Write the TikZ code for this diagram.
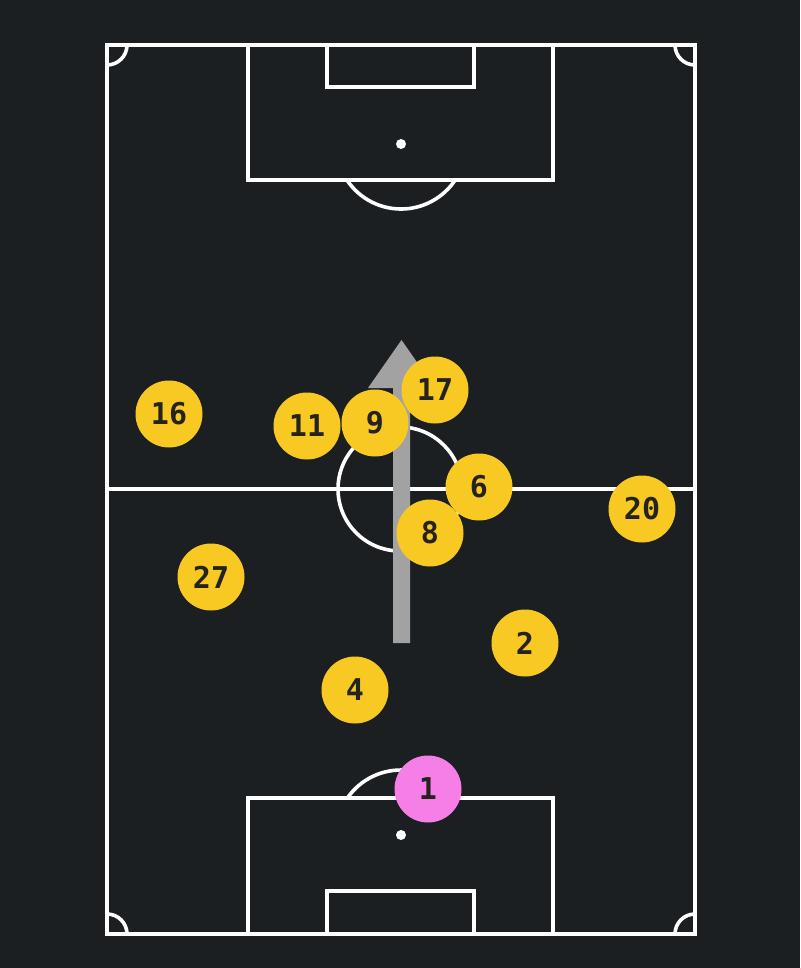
\documentclass[tikz,border=0pt]{standalone}
\usepackage{fontspec}
\newfontfamily\kitfont{DejaVu Sans Mono}
\definecolor{pitchbg}{HTML}{1B1F22}
\definecolor{kityellow}{HTML}{F8C922}
\definecolor{kitpink}{HTML}{F57FE6}
\definecolor{kittext}{HTML}{26231F}
\definecolor{rungray}{HTML}{A2A2A2}
\tikzset{
  pitchline/.style={white, line width=3.6pt},
  player/.style={circle, fill=kityellow, text=kittext, minimum size=67pt, inner sep=0pt,
    font=\kitfont\bfseries\fontsize{30}{30}\selectfont},
  keeper/.style={player, fill=kitpink}
}
\begin{document}
\begin{tikzpicture}[x=1pt, y=-1pt]
        \fill[pitchbg] (0,0) rectangle (800,968);
        \useasboundingbox (0,0) rectangle (800,968);
        % pitch
        \draw[pitchline] (107,45) rectangle (695,934);
        \draw[pitchline] (107,489) -- (695,489);
        \draw[pitchline] (400,489) circle[radius=62];
        \draw[pitchline] (248,45) rectangle (553,180);
        \draw[pitchline] (327,45) rectangle (474,87);
        \draw[pitchline] (248,934) rectangle (553,798);
        \draw[pitchline] (327,934) rectangle (474,891);
        \fill[white] (401,144) circle[radius=5];
        \fill[white] (401,835) circle[radius=5];
        \draw[pitchline] (346.9,180) arc[start angle=146.4, end angle=33.6, radius=65];
        \draw[pitchline] (347.4,798) arc[start angle=214.7, end angle=325.3, radius=65];
        % corners
        \draw[pitchline] (127,45) arc[start angle=0, end angle=90, radius=20];
        \draw[pitchline] (675,45) arc[start angle=180, end angle=90, radius=20];
        \draw[pitchline] (127,934) arc[start angle=0, end angle=-90, radius=20];
        \draw[pitchline] (675,934) arc[start angle=180, end angle=270, radius=20];
        % run
        \fill[rungray] (393,643) -- (393,388) -- (368,388) -- (401.5,340) -- (435,388) -- (410,388) -- (410,643) -- cycle;
        % players
        \node[player] (p16) at (169,414) {16};
        \node[player] (p11) at (307,426) {11};
        \node[player] (p17) at (435,390) {17};
        \node[player] (p9) at (375,423) {9};
        \node[player] (p6) at (479,487) {6};
        \node[player] (p8) at (430,533) {8};
        \node[player] (p20) at (642,509) {20};
        \node[player] (p27) at (211,577) {27};
        \node[player] (p2) at (525,643) {2};
        \node[player] (p4) at (355,690) {4};
        \node[keeper] (p1) at (428,789) {1};
    \end{tikzpicture}
\end{document}
